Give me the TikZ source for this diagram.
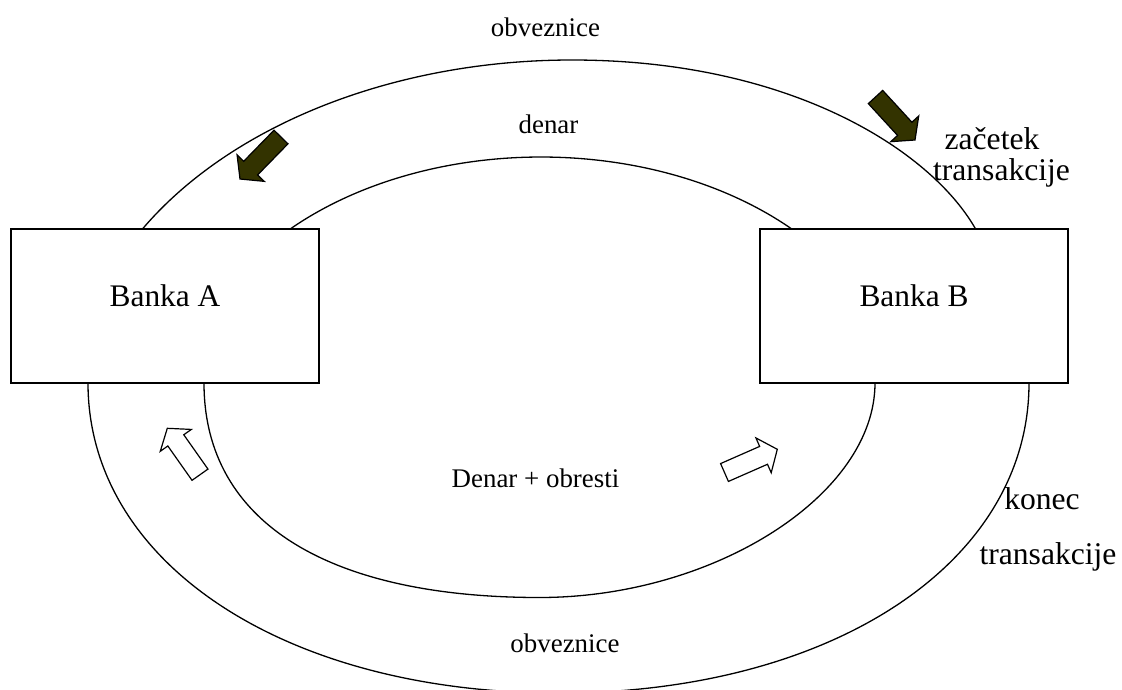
\documentclass[tikz,border=0pt]{standalone}
\usepackage{fontspec}
\setmainfont{Liberation Serif}
\usetikzlibrary{calc}
\definecolor{olivedark}{RGB}{51,51,0}
\newcommand\blockarrowdraw[3]{%
  \path ($(#2)!0.74!(#3)$) coordinate (#2-b);
  \draw[#1] ($(#2)!9.75pt!90:(#3)$) -- ($(#2-b)!9.75pt!90:(#3)$) -- ($(#2-b)!19pt!90:(#3)$) -- (#3)
    -- ($(#2-b)!19pt!-90:(#3)$) -- ($(#2-b)!9.75pt!-90:(#3)$) -- ($(#2)!9.75pt!-90:(#3)$) -- cycle;
}
\begin{document}
\begin{tikzpicture}[x=1pt,y=-1pt,
  flow/.style={line width=1.3pt,black},
  bank/.style={draw=black,fill=white,line width=1.8pt,minimum width=308pt,minimum height=154pt,
    inner sep=0pt,text height=14pt,text depth=14pt,font=\fontsize{31.4pt}{36pt}\selectfont},
  small/.style={inner sep=0pt,anchor=base,font=\fontsize{26.9pt}{32pt}\selectfont},
  big/.style={inner sep=0pt,anchor=base,font=\fontsize{31.6pt}{36pt}\selectfont},
  darkarrow/.style={draw=black,fill=olivedark,line width=1.2pt,line join=miter},
  whitearrow/.style={draw=black,fill=white,line width=1.2pt,line join=miter}]
\useasboundingbox (0,0) rectangle (1122,689);
% top arcs (ends hidden by the boxes)
\draw[flow] (572,400) ++(-151.2:497 and 340) arc[start angle=-151.2,end angle=-90,x radius=497,y radius=340]
  .. controls (790,60) and (930,150) .. (975,228) -- (979.6,236);
\draw[flow] (541,400) ++(-137.6:353 and 243) arc[start angle=-137.6,end angle=-42.4,x radius=353,y radius=243];
% bottom arcs
\draw[flow] (88,372) -- (88,383) .. controls (88,563) and (285,693) .. (558.5,693)
  .. controls (832,693) and (1029,563) .. (1029,383) -- (1029,372);
\draw[flow] (204,372) -- (204,383) .. controls (204,524) and (331,597.5) .. (539.5,597.5)
  .. controls (714,597.5) and (875,495) .. (875,383) -- (875,372);
% banks
\node[bank] (A) at (165,306) {Banka A};
\node[bank] (B) at (914,306) {Banka B};
% labels
\node[small] (obvtop) at (545.5,36) {obveznice};
\node[small] (denar) at (548.5,133) {denar};
\node[small] (dob) at (535.5,487) {Denar + obresti};
\node[small] (obvbot) at (565,652) {obveznice};
\node[big] (zac) at (992,149.5) {začetek};
\node[big] (trans1) at (1001.5,180) {transakcije};
\node[big] (konec) at (1042,509) {konec};
\node[big] (trans2) at (1048,564) {transakcije};
% block arrows
\coordinate (d1t) at (281,137); \coordinate (d1h) at (240,179);
\coordinate (d2t) at (875.5,97); \coordinate (d2h) at (915,140);
\coordinate (w1t) at (200,474.7); \coordinate (w1h) at (167.3,428.3);
\coordinate (w2t) at (724.5,472.5); \coordinate (w2h) at (777.3,449.3);
\blockarrowdraw{darkarrow}{d1t}{d1h}
\blockarrowdraw{darkarrow}{d2t}{d2h}
\blockarrowdraw{whitearrow}{w1t}{w1h}
\blockarrowdraw{whitearrow}{w2t}{w2h}
\end{tikzpicture}
\end{document}
